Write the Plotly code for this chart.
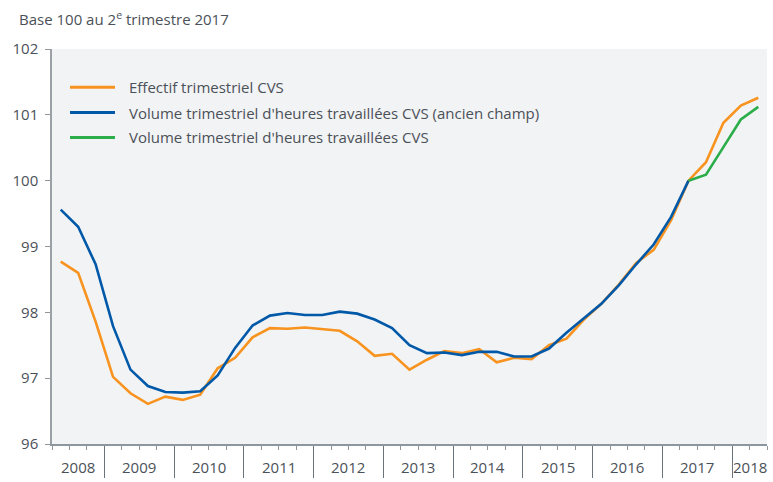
import plotly.graph_objects as go

# Quarters 2008Q2 .. 2018Q2
quarters = [f"{y}T{q}" for y in range(2008, 2019) for q in range(1, 5)]
quarters = quarters[1:quarters.index("2018T2") + 1]

effectif = [98.77, 98.60, 97.86, 97.02, 96.77, 96.61, 96.72, 96.67, 96.75, 97.15,
            97.31, 97.62, 97.76, 97.75, 97.77, 97.75, 97.72, 97.56, 97.34, 97.37,
            97.13, 97.28, 97.41, 97.38, 97.44, 97.24, 97.31, 97.29, 97.50, 97.60,
            97.89, 98.13, 98.42, 98.75, 98.95, 99.40, 100.00, 100.28, 100.88, 101.14,
            101.26]
volume_ancien = [99.56, 99.30, 98.73, 97.79, 97.13, 96.88, 96.79, 96.78, 96.80, 97.04,
                 97.46, 97.80, 97.95, 97.99, 97.96, 97.96, 98.01, 97.98, 97.89, 97.76,
                 97.50, 97.38, 97.39, 97.35, 97.40, 97.40, 97.33, 97.33, 97.45, 97.69,
                 97.91, 98.13, 98.41, 98.73, 99.03, 99.45, 100.00]
volume = [100.00, 100.09, 100.51, 100.93, 101.12]

names = ["Effectif trimestriel CVS",
         "Volume trimestriel d'heures travaillées CVS (ancien champ)",
         "Volume trimestriel d'heures travaillées CVS"]
colors = ["#F7931E", "#0059A8", "#2BAE4A"]

years = [str(y) for y in range(2008, 2019)]
y_ticks = [96, 97, 98, 99, 100, 101, 102]

TEXT = "#4B5158"
FONT = "Open Sans"
FS = 15

idx = list(range(len(quarters)))
start_green = quarters.index("2017T2")

series = [
    (idx, effectif),
    (idx[:len(volume_ancien)], volume_ancien),
    (idx[start_green:start_green + len(volume)], volume),
]

fig = go.Figure()
for (xs, ys), name, col in zip(series, names, colors):
    fig.add_trace(go.Scatter(x=xs, y=ys, mode="lines", name=name,
                             line=dict(color=col, width=2.6),
                             hovertemplate="%{y:.2f}<extra></extra>"))

# year boundaries and centres from the quarter list
year_of = [q[:4] for q in quarters]
boundaries = [i - 0.5 for i in range(1, len(quarters)) if year_of[i] != year_of[i - 1]]
centres = []
for y in years:
    pos = [i for i, v in enumerate(year_of) if v == y]
    centres.append((pos[0] + pos[-1]) / 2)

annotations = []
for y, c in zip(years, centres):
    annotations.append(dict(x=c, y=0, xref="x", yref="paper", text=y, showarrow=False,
                            xanchor="center", yanchor="middle", yshift=-23,
                            font=dict(family=FONT, size=FS, color=TEXT)))

# manual legend
leg_y = [0.903, 0.839, 0.776]
shapes = []
for name, col, ly in zip(names, colors, leg_y):
    shapes.append(dict(type="line", xref="paper", yref="paper", x0=0.0252, x1=0.0881,
                       y0=ly, y1=ly, line=dict(color=col, width=3)))
    annotations.append(dict(x=0.1049, y=ly, xref="paper", yref="paper", text=name,
                            showarrow=False, xanchor="left", yanchor="middle",
                            font=dict(family=FONT, size=FS, color=TEXT)))

annotations.append(dict(x=-52 / 715 + 17 / 715, y=1, xref="paper", yref="paper",
                        text="Base 100 au 2<sup>e</sup> trimestre 2017", showarrow=False,
                        xanchor="left", yanchor="middle", yshift=31,
                        font=dict(family=FONT, size=FS, color=TEXT)))

fig.update_layout(
    width=773, height=482,
    margin=dict(l=52, r=6, t=49, b=31),
    paper_bgcolor="white", plot_bgcolor="#F2F3F5",
    showlegend=False,
    annotations=annotations,
    shapes=shapes,
    font=dict(family=FONT, color=TEXT),
)

fig.update_xaxes(range=[-0.5, len(quarters) - 0.5], showgrid=False, zeroline=False,
                 showline=True, linecolor="#8E969D", linewidth=1.5,
                 tickmode="array", tickvals=boundaries, showticklabels=False,
                 ticks="outside", ticklen=32, tickwidth=1.3, tickcolor="#6A747C",
                 minor=dict(tickmode="linear", tick0=-0.5, dtick=1, ticks="outside",
                            ticklen=4, tickwidth=1.2, tickcolor="#8E969D", showgrid=False))
fig.update_yaxes(range=[96, 102], tickvals=y_ticks, showgrid=False, zeroline=False,
                 showline=True, linecolor="#9AA0A6", linewidth=1.5,
                 ticks="outside", ticklen=5, tickwidth=1.2, tickcolor="#8E969D",
                 ticklabelstandoff=4,
                 tickfont=dict(family=FONT, size=FS, color=TEXT))

fig.write_html("out.html")
